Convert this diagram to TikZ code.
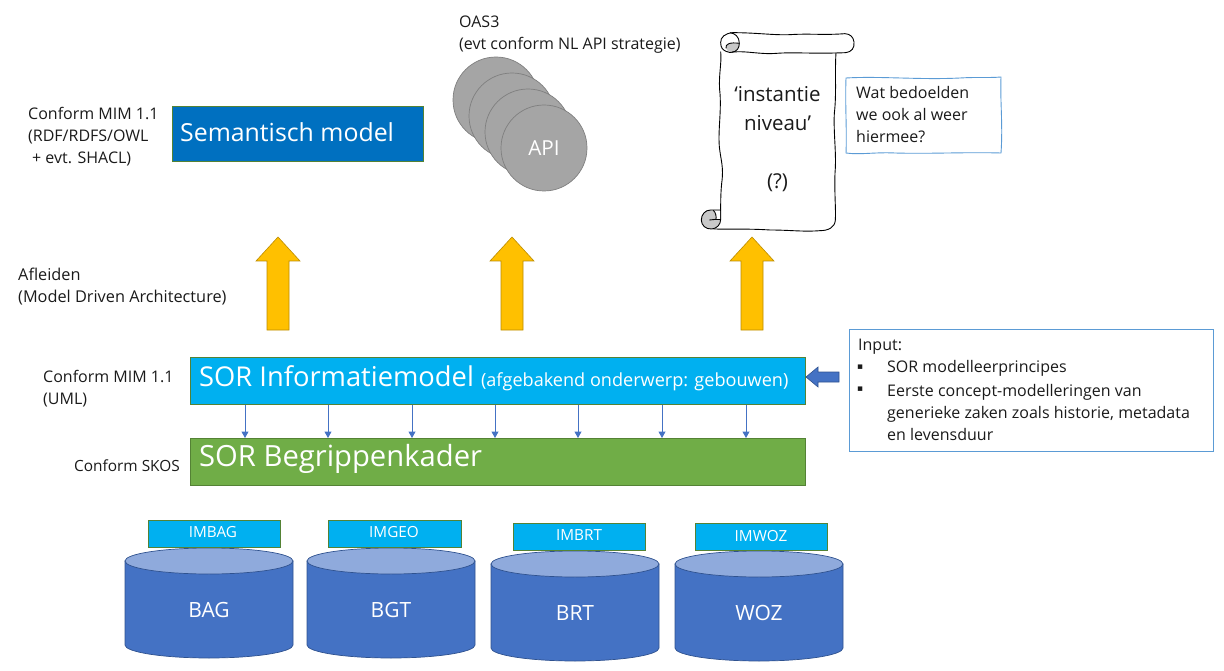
\documentclass[tikz,border=0pt]{standalone}
\usepackage{fontspec}
\setmainfont{Open Sans}
\newfontfamily\symfont{DejaVu Sans}
\usetikzlibrary{arrows.meta,shapes.geometric}
\definecolor{cyanbox}{HTML}{00B0F0}
\definecolor{greenedge}{HTML}{548235}
\definecolor{greenbox}{HTML}{70AD47}
\definecolor{bluebox}{HTML}{0070C0}
\definecolor{cyl}{HTML}{4472C4}
\definecolor{cyltop}{HTML}{8FAADC}
\definecolor{cyledge}{HTML}{2F528F}
\definecolor{amber}{HTML}{FFC000}
\definecolor{amberedge}{HTML}{BC8C00}
\definecolor{notebl}{HTML}{5B9BD5}
\definecolor{apigrey}{HTML}{A5A5A5}
\definecolor{apiedge}{HTML}{7F7F7F}
\definecolor{curl}{HTML}{C8C8C8}
\definecolor{txt}{HTML}{1A1A1A}
\tikzset{
  x=1pt,y=-1pt,
  lab/.style={anchor=west,inner sep=0pt,align=left,text=txt,font=\fontsize{16}{22}\selectfont},
  modelbox/.style={draw=greenedge,line width=0.8pt,anchor=north west,inner sep=0pt,text=white},
  titletext/.style={anchor=west,inner sep=0pt,text=white},
  imbox/.style={draw=greenedge,line width=0.8pt,anchor=north west,fill=cyanbox,minimum height=27pt,inner sep=0pt},
  imtext/.style={inner sep=0pt,text=white,font=\fontsize{15.3}{18}\selectfont},
  cylside/.style={fill=cyl,draw=cyledge,line width=0.7pt},
  cyltopst/.style={fill=cyltop,draw=cyledge,line width=0.7pt},
  cyllabel/.style={inner sep=0pt,text=white,font=\fontsize{21}{24}\selectfont},
  apidisc/.style={circle,minimum size=86pt,inner sep=0pt,fill=apigrey,draw=apiedge,line width=0.7pt},
  uparrow/.style={fill=amber,draw=amberedge,line width=0.6pt},
  thinarrow/.style={draw=cyl,line width=1pt,-{Triangle[length=6.5pt,width=7pt]}},
  scrollline/.style={draw=black,line width=0.9pt,line join=round},
}
\newcommand{\cylinder}[4]{% name, left x, top y of ellipse centre, label
  \path[cylside] (#2,#3) -- (#2,#3+84) .. controls (#2,#3+91) and (#2+37,#3+97) .. (#2+84,#3+97)
     .. controls (#2+131,#3+97) and (#2+168,#3+91) .. (#2+168,#3+84) -- (#2+168,#3) -- cycle;
  \node[ellipse,cyltopst,minimum width=168pt,minimum height=26pt,inner sep=0pt] (#1top) at (#2+84,#3) {};
  \node[cyllabel] (#1) at (#2+84,#3+49) {#4};
}
\newcommand{\uparrowshape}[1]{% centre x
  \path[uparrow] (#1,237) -- (#1+22,261) -- (#1+11,261) -- (#1+11,330) -- (#1-11,330) -- (#1-11,261) -- (#1-22,261) -- cycle;
}
\begin{document}
\begin{tikzpicture}
\useasboundingbox (0,0) rectangle (1224,671);

% left labels
\node[lab] (l1) at (28,136.5) {Conform MIM 1.1\\(RDF/RDFS/OWL\\\hspace*{4pt}+ evt. SHACL)};
\node[lab,font=\fontsize{16.3}{22}\selectfont] (l2) at (18,286.5) {Afleiden\\(Model Driven Architecture)};
\node[lab] (l3) at (43,389) {Conform MIM 1.1\\(UML)};
\node[lab,font=\fontsize{15.4}{22}\selectfont] (l4) at (74,465.5) {Conform SKOS};
\node[lab] (l5) at (459,35) {OAS3\\(evt conform NL API strategie)};

% boxes
\node[modelbox,fill=bluebox,minimum width=251pt,minimum height=55pt] (sem) at (172,106) {};
\node[titletext,font=\fontsize{24.85}{30}\selectfont] (semt) at (180,132) {Semantisch model};
\node[modelbox,fill=cyanbox,minimum width=615pt,minimum height=47pt] (info) at (190,357) {};
\node[titletext,font=\fontsize{27.3}{30}\selectfont] (infot) at (199,378.5) {SOR Informatiemodel {\fontsize{18.1}{20}\selectfont (afgebakend onderwerp: gebouwen)}};
\node[modelbox,fill=greenbox,minimum width=615pt,minimum height=47pt] (begrip) at (190,438) {};
\node[titletext,font=\fontsize{29.2}{32}\selectfont] (begript) at (199,458.5) {SOR Begrippenkader};

% thin arrows between the models
\foreach \i/\px in {1/245,2/328,3/412,4/495,5/578,6/662,7/746}{
  \coordinate (t\i) at (\px,400);
  \draw[thinarrow] (info.south -| t\i) -- (begrip.north -| t\i);
}

% API discs
\node[apidisc] (api1) at (496,100) {};
\node[apidisc] (api2) at (512,116) {};
\node[apidisc] (api3) at (528,132) {};
\node[apidisc,text=white,font=\fontsize{20.7}{24}\selectfont] (api4) at (544,148) {API};

% amber arrows
\uparrowshape{278}
\uparrowshape{512}
\uparrowshape{752}

% scroll
\begin{scope}[shift={(680,20)},scale=0.33333]
  \path[fill=curl] (138,85) .. controls (135,72) and (150,66) .. (178,70) .. controls (178,85) and (170,95) .. (155,97) .. controls (147,97) and (140,92) .. (138,85) -- cycle;
  \path[scrollline]
    (160,96) .. controls (200,92) and (240,104) .. (290,100) .. controls (340,96) and (400,102) .. (497,98)
    .. controls (515,96) and (524,84) .. (522,66) .. controls (520,50) and (510,42) .. (495,41)
    .. controls (430,46) and (390,40) .. (330,44) .. controls (280,46) and (230,38) .. (158,38)
    .. controls (135,40) and (121,52) .. (122,68) .. controls (122,82) and (128,90) .. (138,94)
    .. controls (145,99) and (155,98) .. (160,96);
  \path[scrollline] (178,70) .. controls (178,50) and (165,40) .. (150,38);
  \path[scrollline] (138,85) .. controls (135,72) and (150,66) .. (178,70) .. controls (178,85) and (170,95) .. (155,97);
  \path[scrollline] (122,95) .. controls (126,130) and (114,170) .. (120,220) .. controls (124,280) and (114,330) .. (118,380)
    .. controls (122,420) and (132,440) .. (125,490) .. controls (122,520) and (122,550) .. (122,570);
  \path[scrollline] (468,98) .. controls (464,160) and (470,220) .. (463,280) .. controls (460,340) and (470,400) .. (465,460)
    .. controls (463,520) and (468,570) .. (466,600) .. controls (465,622) and (445,632) .. (420,632)
    .. controls (370,636) and (330,630) .. (270,630) .. controls (210,626) and (160,628) .. (100,627);
\end{scope}
\begin{scope}[shift={(690,200)},scale=0.33333]
  \path[scrollline,fill=curl] (92,30) -- (62,30) .. controls (45,30) and (34,44) .. (34,60) .. controls (34,76) and (47,88) .. (65,87)
    .. controls (80,86) and (92,74) .. (92,58) -- cycle;
  \path[fill=white] (72,33) .. controls (78,40) and (79,50) .. (78,58) -- (90,58) -- (90,33) -- cycle;
  \path[scrollline] (70,31) .. controls (78,38) and (79,50) .. (78,58) -- (58,60);
  \path[scrollline] (78,58) -- (92,58);
\end{scope}
\node[inner sep=0pt,align=center,text=txt,font=\fontsize{20.5}{29}\selectfont] (scrolltext) at (777.5,139)
  {‘instantie\\niveau’\\[29pt](?)};

% wobbly note
\path[draw=notebl,line width=0.9pt]
  (846,78) .. controls (880,76) and (920,80) .. (960,78) .. controls (975,77) and (990,78) .. (1001,77)
  .. controls (1000,100) and (1003,125) .. (1001,153)
  .. controls (965,152) and (930,154) .. (895,153) .. controls (875,152) and (860,155) .. (846,153)
  .. controls (847,130) and (845,105) .. (846,78) -- cycle;
\node[lab] (note) at (856,114.5) {Wat bedoelden\\we ook al weer\\hiermee?};

% cylinders
\cylinder{bag}{125}{561}{BAG}
\cylinder{bgt}{307}{561}{BGT}
\cylinder{brt}{491}{564}{BRT}
\cylinder{woz}{675}{564}{WOZ}
\node[imbox,minimum width=132pt] (imbag) at (148,520) {};
\node[imbox,minimum width=133pt] (imgeo) at (328,520) {};
\node[imbox,minimum width=132pt] (imbrt) at (513,523) {};
\node[imbox,minimum width=132pt] (imwoz) at (695,523) {};
\node[imtext] (imbagt) at (213,532) {IMBAG};
\node[imtext] (imgeot) at (394,532) {IMGEO};
\node[imtext] (imbrtt) at (579,535) {IMBRT};
\node[imtext] (imwozt) at (761,536) {IMWOZ};

% input box
\node[draw=notebl,line width=0.8pt,anchor=north west,minimum width=364pt,minimum height=122pt,inner sep=0pt] (input) at (848.5,329) {};
\node[lab] (input0) at (858,347) {Input:};
\node[lab,font=\fontsize{9}{10}\selectfont\symfont] (b1) at (857,367) {▪};
\node[lab] (input1) at (887,368.5) {SOR modelleerprincipes};
\node[lab,font=\fontsize{9}{10}\selectfont\symfont] (b2) at (857,389) {▪};
\node[lab] (input2) at (887,412.5) {Eerste concept-modelleringen van\\generieke zaken zoals historie, metadata\\en levensduur};

% input arrow
\path[fill=cyl,draw=cyledge,line width=0.6pt] (806,377) -- (818,367) -- (818,372) -- (839,372) -- (839,382) -- (818,382) -- (818,387) -- cycle;
\end{tikzpicture}
\end{document}
